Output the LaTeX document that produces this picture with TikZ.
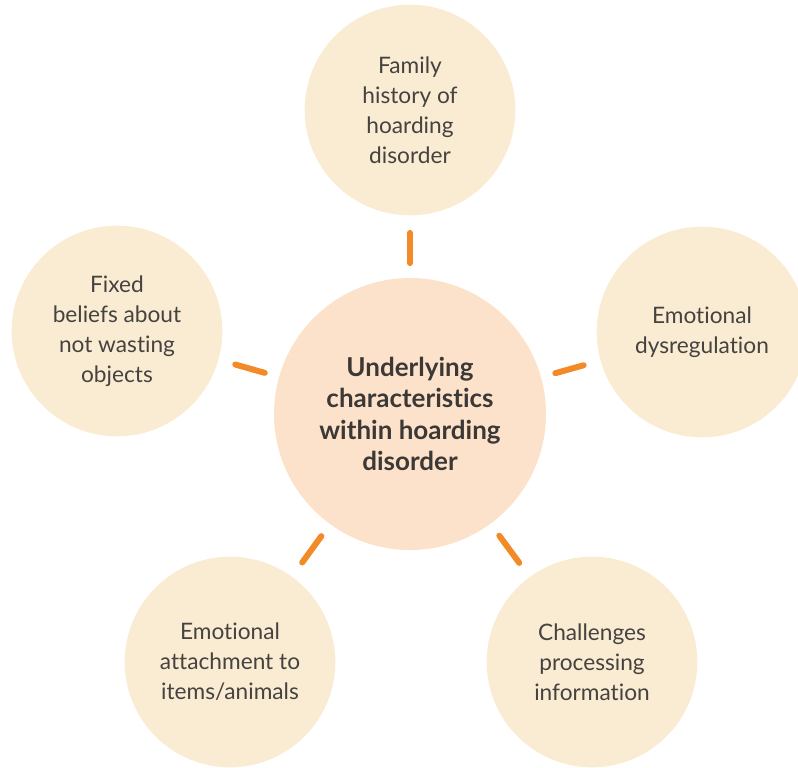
\documentclass[tikz,border=0pt]{standalone}
\usepackage{fontspec}
\setmainfont{Lato}[Ligatures = NoCommon]
\definecolor{petal}{HTML}{FAECD2}
\definecolor{core}{HTML}{FDE2CB}
\definecolor{stem}{HTML}{F28A28}
\definecolor{ink}{HTML}{454240}
\tikzset{petal/.style = {circle, fill = petal, minimum size = 158pt, inner sep = 0, align = center, text = ink, font = \fontsize{17}{22.5}\selectfont}}
\tikzset{core/.style = {circle, fill = core, minimum size = 204pt, inner sep = 0, align = center, text = ink!85!black, font = \fontsize{19.5}{23.5}\selectfont\bfseries}}
\tikzset{stem/.style = {draw = stem, line width = 4.5pt, line cap = round, shorten < = 11pt, shorten > = 13pt}}

\begin{document}
\begin{tikzpicture}[x = 0.75pt, y = -0.75pt]
    \useasboundingbox (0,0) rectangle (798,767);
    \node [core] (mid) at (410,414) {Underlying\\characteristics\\within hoarding\\disorder};
    \node [petal] (top) at (410,110) {Family\\history of\\hoarding\\disorder};
    \node [petal] (right) at (702,332) {Emotional\\dysregulation};
    \node [petal] (left) at (117,331) {Fixed\\beliefs about\\not wasting\\objects};
    \node [petal] (lowl) at (230,662) {Emotional\\attachment to\\items/animals};
    \node [petal] (lowr) at (592,662) {Challenges\\processing\\information};
    \draw [stem] (mid) -- (top);
    \draw [stem] (mid) -- (right);
    \draw [stem] (mid) -- (left);
    \draw [stem] (mid) -- (lowl);
    \draw [stem] (mid) -- (lowr);
\end{tikzpicture}
\end{document}
